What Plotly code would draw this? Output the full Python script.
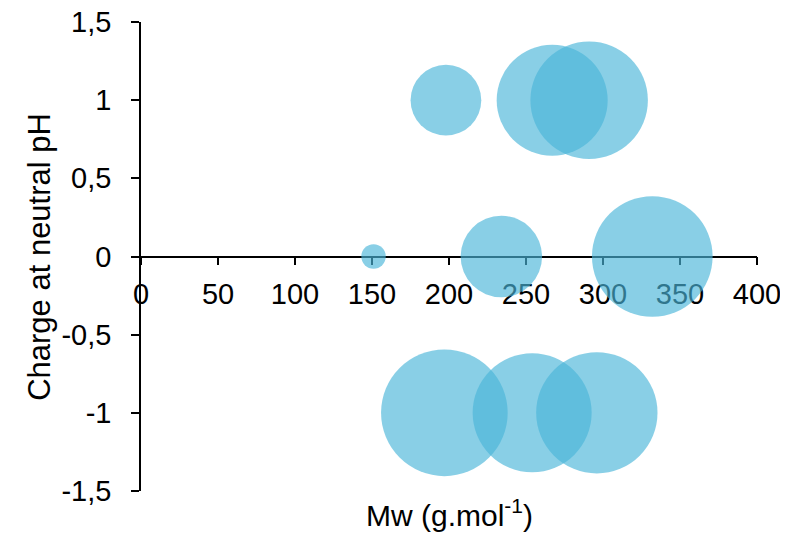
import plotly.graph_objects as go

# Data
mw = [151, 198, 267, 291, 234, 332, 197, 254, 296]          # Mw (g.mol-1)
charge = [0, 1, 1, 1, 0, 0, -1, -1, -1]                     # charge at neutral pH
bubble_size = [1.49, 12.5, 30.8, 34.5, 16.6, 36.4, 40.1, 35.4, 36.8]  # bubble size (area units)

x_ticks = [0, 50, 100, 150, 200, 250, 300, 350, 400]
x_ticktext = ["0", "50", "100", "150", "200", "250", "300", "350", "400"]
y_ticks = [-1.5, -1, -0.5, 0, 0.5, 1, 1.5]
y_ticktext = ["-1,5", "-1", "-0,5", "0", "0,5", "1", "1,5"]

FONT = "Liberation Sans, Arial, sans-serif"

# the page body has an 8px default margin, so the figure is 8px smaller
fig = go.Figure()
fig.add_trace(go.Scatter(
    x=mw, y=charge, mode="markers",
    marker=dict(size=bubble_size, sizemode="area", sizeref=0.005,
                color="rgb(74,181,217)", opacity=0.65, line=dict(width=0)),
    hoverinfo="skip", showlegend=False, cliponaxis=False,
))

fig.update_layout(
    width=780, height=527,
    margin=dict(l=133, r=31, t=14, b=44, pad=0, autoexpand=False),
    paper_bgcolor="white", plot_bgcolor="white",
    font=dict(family=FONT, size=29, color="black"),
    showlegend=False,
    xaxis=dict(range=[0, 400], tickvals=x_ticks, ticktext=x_ticktext,
               showline=True, linecolor="black", linewidth=1.5,
               ticks="outside", ticklen=8, tickwidth=1.5, tickcolor="black",
               showgrid=False, zeroline=False, anchor="free", position=0.5,
               layer="below traces", ticklabelstandoff=4, automargin=False,
               ticklabeloverflow="allow"),
    yaxis=dict(range=[-1.5, 1.5], tickvals=y_ticks, ticktext=y_ticktext,
               showline=True, linecolor="black", linewidth=1.5,
               ticks="outside", ticklen=8, tickwidth=1.5, tickcolor="black",
               showgrid=False, zeroline=False, layer="below traces",
               ticklabelstandoff=14, automargin=False,
               ticklabeloverflow="allow"),
    annotations=[
        dict(text="Charge at neutral pH", textangle=-90, xref="paper", yref="paper",
             x=-0.165, y=0.5, xanchor="center", yanchor="middle", showarrow=False,
             font=dict(family=FONT, size=31)),
        dict(text="Mw (g.mol<sup>-1</sup>)", xref="paper", yref="paper",
             x=0.5, y=-0.047, xanchor="center", yanchor="middle", showarrow=False,
             font=dict(family=FONT, size=30)),
    ],
)

fig.write_html("out.html")
